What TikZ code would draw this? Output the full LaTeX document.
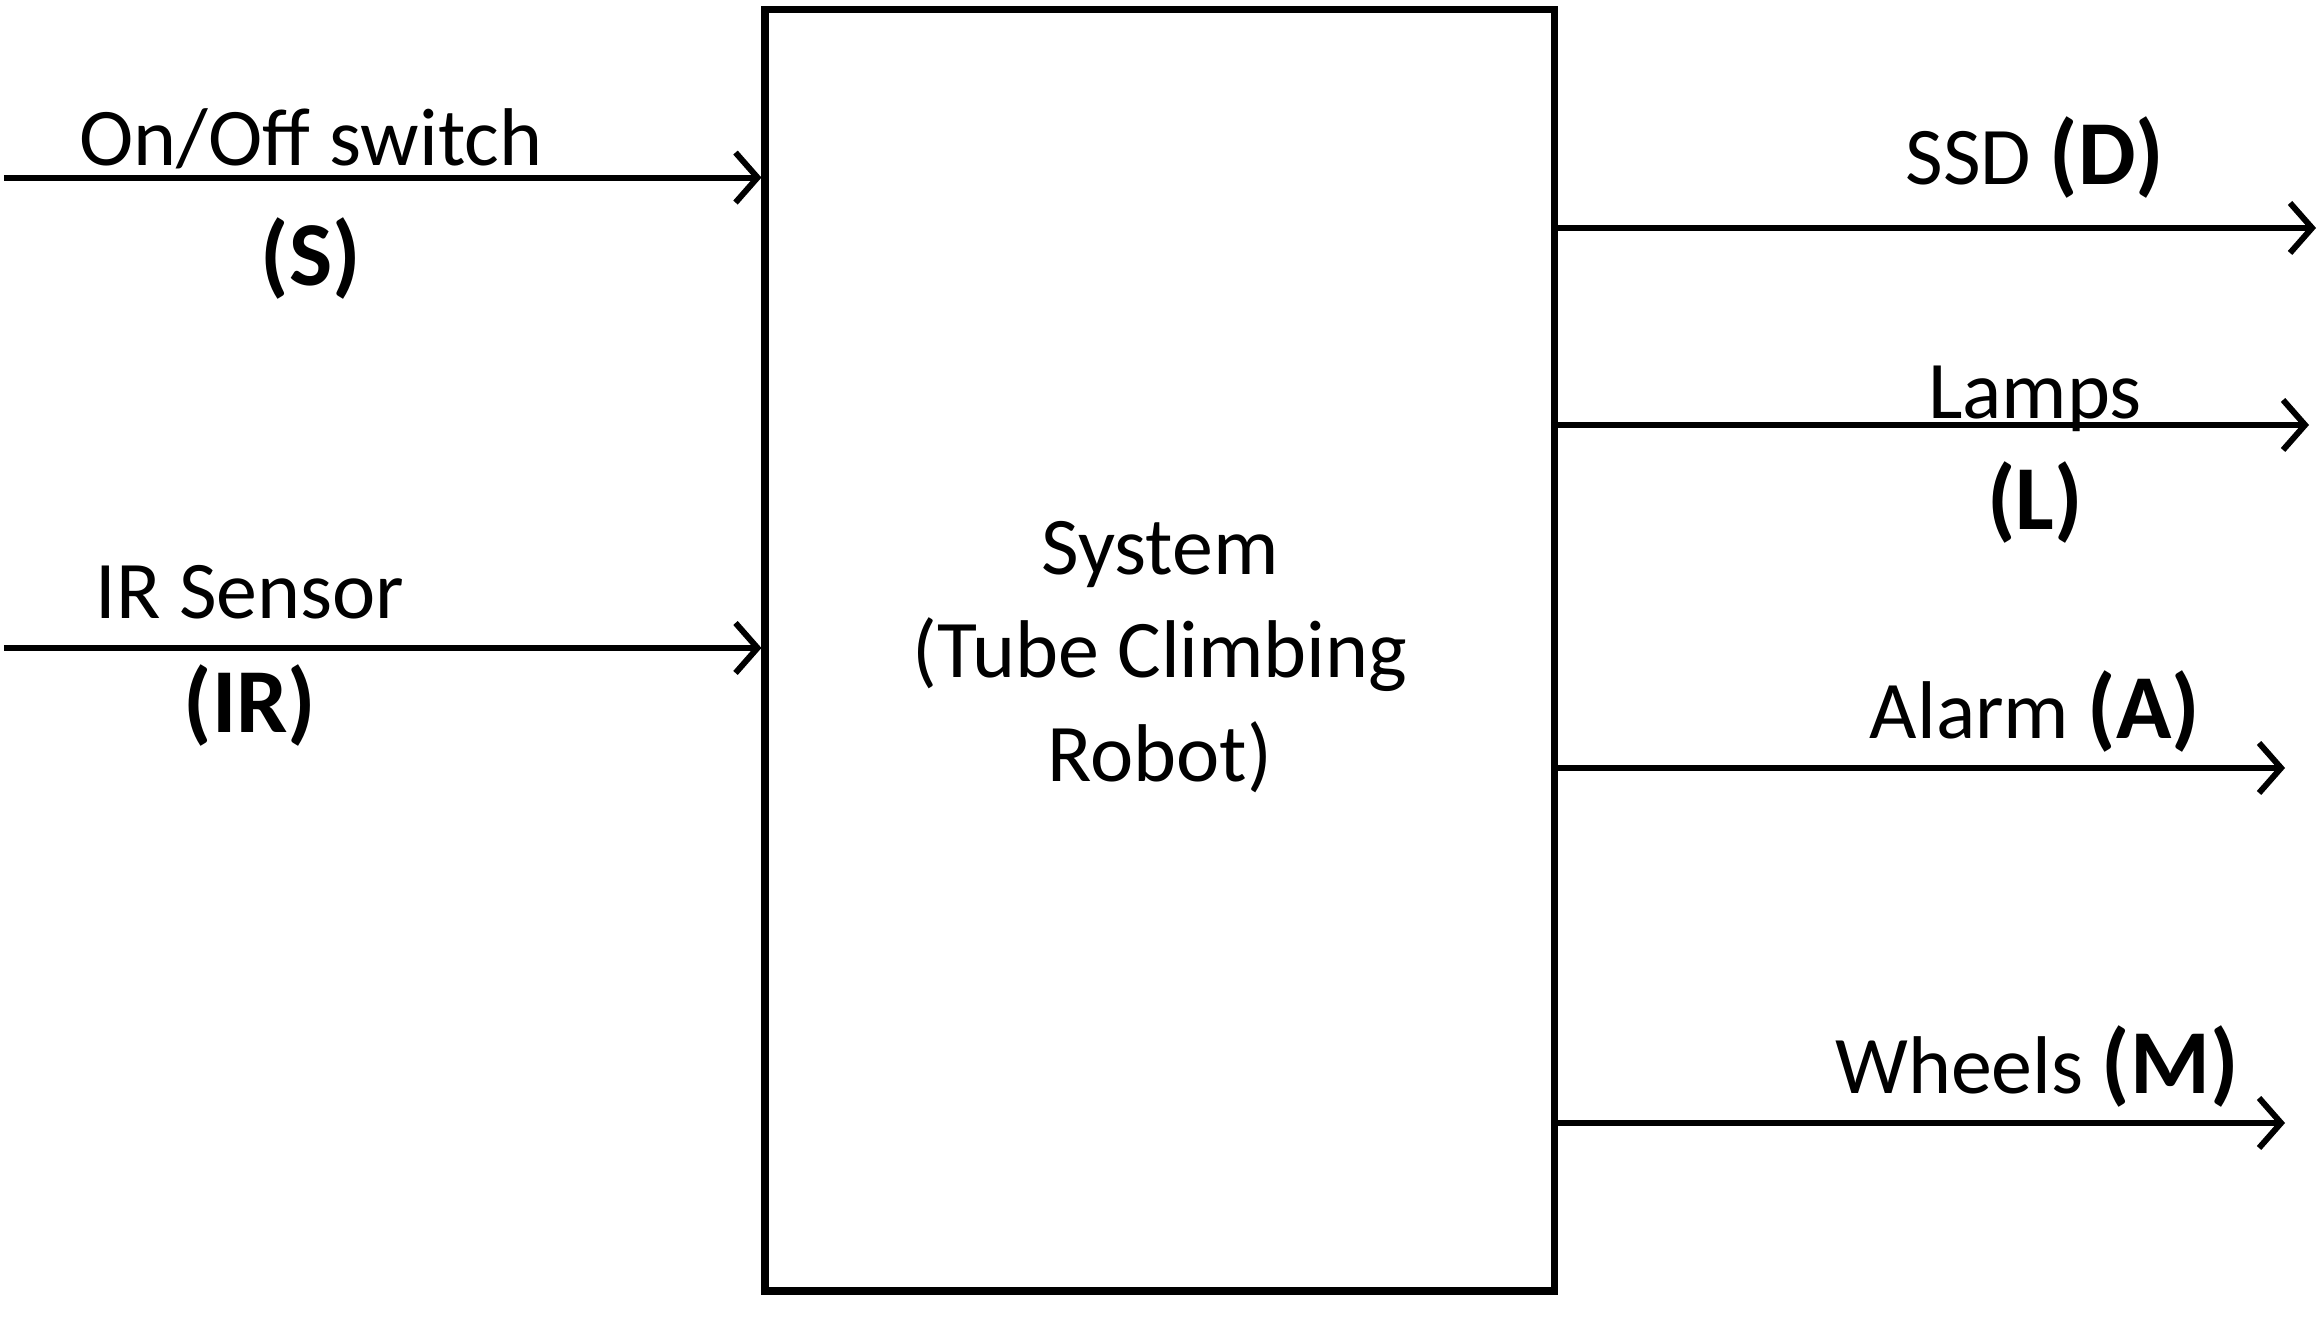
\documentclass[tikz,border=0pt]{standalone}
\usepackage{fontspec}
\setmainfont{Carlito}
\usetikzlibrary{arrows.meta}
\begin{document}
\begin{tikzpicture}[
  lbl/.style={inner sep=0pt, anchor=base, font=\fontsize{23.3}{28}\selectfont},
  conn/.style={line width=1.7pt, -{Straight Barb[length=0.22cm, width=0.5cm, line width=1.7pt]}},
  bl/.style={font=\fontsize{26}{30}\selectfont\bfseries}
]
\useasboundingbox (0,0) rectangle (23.21,13.29);
\node[draw, line width=2pt, minimum width=7.89cm, minimum height=12.81cm, inner sep=0pt] (sys) at (11.595,6.785) {};
\node[inner sep=0pt, align=center, font=\fontsize{23.3}{29.4}\selectfont] (systxt) at (11.60,6.72)
  {System\\(Tube Climbing\\Robot)};

% inputs
\coordinate (s0) at (0.04,11.514);
\coordinate (ir0) at (0.04,6.81);
\draw[conn] (s0) -- (s0 -| sys.west);
\draw[conn] (ir0) -- (ir0 -| sys.west);
\node[lbl] (ls) at (3.11,11.63) {On/Off switch};
\node[lbl, bl] (lsb) at (3.11,10.43) {(S)};
\node[lbl] (lir) at (2.50,7.10) {IR Sensor};
\node[lbl, bl] (lirb) at (2.50,5.96) {(IR)};

% outputs
\coordinate (d1) at (23.16,11.01);
\coordinate (l1) at (23.09,9.04);
\coordinate (a1) at (22.85,5.61);
\coordinate (m1) at (22.85,2.06);
\draw[conn] (d1 -| sys.east) -- (d1);
\draw[conn] (l1 -| sys.east) -- (l1);
\draw[conn] (a1 -| sys.east) -- (a1);
\draw[conn] (m1 -| sys.east) -- (m1);
\node[lbl] (ld) at (20.35,11.44) {SSD {\bfseries\fontsize{26}{30}\selectfont(D)}};
\node[lbl] (ll) at (20.35,9.10) {Lamps};
\node[lbl, bl] (llb) at (20.35,7.99) {(L)};
\node[lbl] (la) at (20.35,5.90) {Alarm {\bfseries\fontsize{26}{30}\selectfont(A)}};
\node[lbl] (lm) at (20.37,2.35) {Wheels {\bfseries\fontsize{26}{30}\selectfont(M)}};
\end{tikzpicture}
\end{document}
